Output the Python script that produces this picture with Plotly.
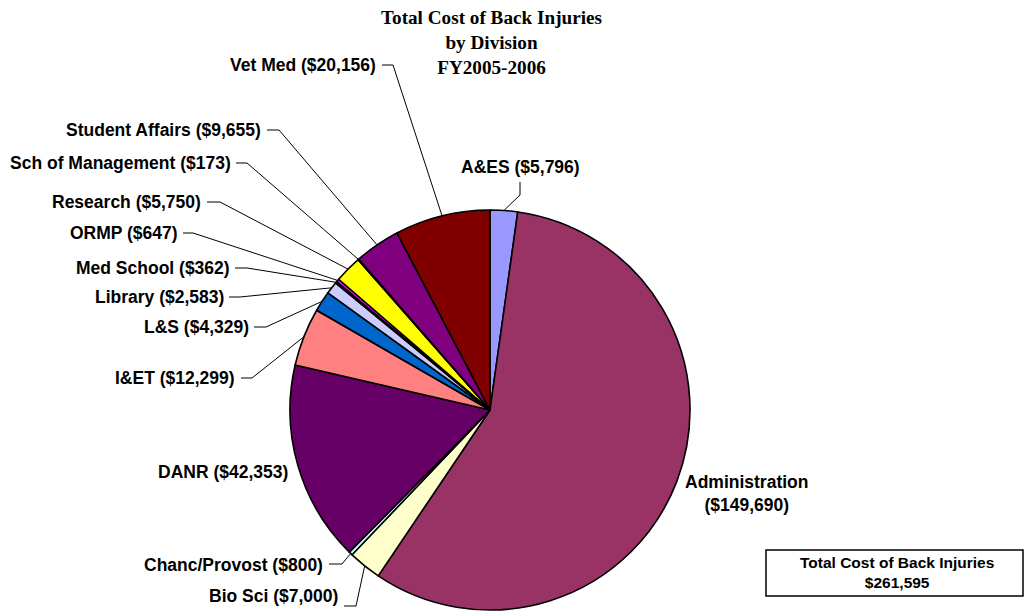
import math
import plotly.graph_objects as go

# Division costs, in pie order (clockwise from 12 o'clock)
divisions = ["A&ES", "Administration", "Bio Sci", "Chanc/Provost", "DANR", "I&ET",
             "L&S", "Library", "Med School", "ORMP", "Research", "Sch of Management",
             "Student Affairs", "Vet Med"]
costs = [5796, 149690, 7000, 800, 42353, 12299, 4329, 2583, 362, 647, 5750, 173, 9655, 20156]
colors = ["#9999FF", "#993366", "#FFFFCC", "#CCFFFF", "#660066", "#FF8080", "#0066CC",
          "#CCCCFF", "#000080", "#FF00FF", "#FFFF00", "#00FFFF", "#800080", "#800000"]
total_label = "$261,595"

W, H = 1026, 612
CX, CY, R = 490, 410, 200  # pie centre and radius in pixels

# Label placement: (text x, text y, anchor, leader elbow points or None)
label_layout = {
    "A&ES": (520, 167, "center", [(520, 182), (520, 195)]),
    "Administration": (746, 493, "center", None),
    "Bio Sci": (340, 596, "right", [(344, 606), (356, 606)]),
    "Chanc/Provost": (325, 565, "right", [(329, 564), (342, 564)]),
    "DANR": (290, 472, "right", None),
    "I&ET": (237, 378, "right", [(241, 378), (252, 378)]),
    "L&S": (251, 327, "right", [(254, 327), (266, 327)]),
    "Library": (226, 297, "right", [(229, 297), (240, 297)]),
    "Med School": (232, 268, "right", [(235, 268), (247, 268)]),
    "ORMP": (180, 233, "right", [(183, 233), (193, 233)]),
    "Research": (203, 202, "right", [(207, 202), (220, 202)]),
    "Sch of Management": (233, 163, "right", [(236, 163), (247, 163)]),
    "Student Affairs": (263, 130, "right", [(267, 130), (279, 130)]),
    "Vet Med": (378, 65, "right", [(382, 65), (393, 65)]),
}

fig = go.Figure()

fig.add_trace(go.Pie(
    labels=divisions,
    values=costs,
    sort=False,
    direction="clockwise",
    rotation=0,
    marker=dict(colors=colors, line=dict(color="#000000", width=1.6)),
    textinfo="none",
    hoverinfo="label+value",
    showlegend=False,
    domain=dict(x=[(CX - R) / W, (CX + R) / W], y=[(H - CY - R) / H, (H - CY + R) / H]),
))

# invisible pixel-space axes for labels and leader lines
fig.add_trace(go.Scatter(x=[0, W], y=[0, H], mode="markers",
                         marker=dict(opacity=0), hoverinfo="skip", showlegend=False))

lab_font = dict(family="Liberation Sans, Arial, sans-serif", size=17.5, color="#000000")
tot = sum(costs)
cum = 0
shapes = []
annotations = []
for name, val in zip(divisions, costs):
    mid = (cum + val / 2) / tot * 2 * math.pi
    cum += val
    ex = CX + R * math.sin(mid)
    ey = CY - R * math.cos(mid)
    tx, ty, anchor, elbow = label_layout[name]
    if name == "Administration":
        text = f"<b>{name}<br>(${val:,})</b>"
    else:
        text = f"<b>{name} (${val:,})</b>"
    annotations.append(dict(x=tx, y=ty, xref="x", yref="y", text=text, showarrow=False,
                            xanchor=anchor, yanchor="middle", align="center",
                            font=lab_font))
    if elbow:
        pts = elbow + [(ex, ey)]
        path = "M " + " L ".join(f"{px},{py}" for px, py in pts)
        shapes.append(dict(type="path", xref="x", yref="y", path=path,
                           line=dict(color="#000000", width=1), layer="above"))

# Chart title
annotations.append(dict(
    x=491, y=42, xref="x", yref="y", showarrow=False, xanchor="center", yanchor="middle",
    text="<b>Total Cost of Back Injuries<br>by Division<br>FY2005-2006</b>",
    font=dict(family="Liberation Serif, Times New Roman, serif", size=19.2, color="#000000"),
    align="center",
))

# Total box
shapes.append(dict(type="rect", xref="x", yref="y", x0=766, x1=1023, y0=550, y1=596,
                   line=dict(color="#000000", width=1.5), fillcolor="rgba(0,0,0,0)"))
annotations.append(dict(
    x=897, y=572, xref="x", yref="y", showarrow=False, xanchor="center", yanchor="middle",
    text=f"<b>Total Cost of Back Injuries<br>{total_label}</b>",
    font=dict(family="Liberation Sans, Arial, sans-serif", size=15.5, color="#000000"),
    align="center",
))

fig.update_layout(
    width=W, height=H,
    margin=dict(l=0, r=0, t=0, b=0),
    paper_bgcolor="#FFFFFF",
    plot_bgcolor="rgba(0,0,0,0)",
    xaxis=dict(range=[0, W], visible=False, fixedrange=True),
    yaxis=dict(range=[H, 0], visible=False, fixedrange=True),
    shapes=shapes,
    annotations=annotations,
)

fig.write_html("out.html")
